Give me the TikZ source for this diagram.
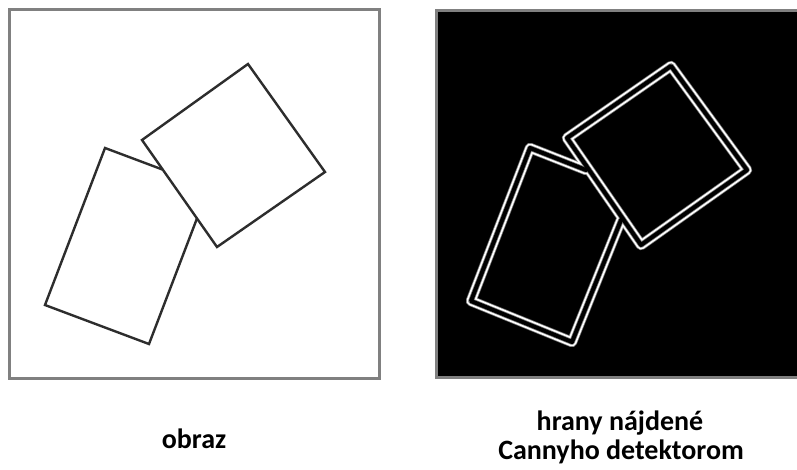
\documentclass[tikz,border=0pt]{standalone}
\usepackage{fontspec}
\setmainfont{Carlito}
\definecolor{framegray}{RGB}{128,128,128}
\definecolor{shapegray}{RGB}{45,45,45}
\definecolor{halo}{RGB}{120,120,120}
\begin{document}
\begin{tikzpicture}[x=1pt,y=-1pt,
  panelframe/.style={draw=framegray,line width=3pt},
  outline/.style={draw=shapegray,line width=2.4pt,line join=miter},
  lbl/.style={font=\fontsize{28}{29}\selectfont\bfseries,text=black,inner sep=0pt,anchor=base},
  edgeA/.style={draw=halo,line width=10.5pt,line join=round,line cap=round},
  edgeB/.style={draw=white,line width=9pt,line join=round,line cap=round},
  edgeC/.style={draw=halo,line width=5.5pt,line join=round,line cap=round},
  edgeD/.style={draw=black,line width=4pt,line join=round,line cap=round}]
\useasboundingbox (0,0) rectangle (797,470);
\fill[white] (0,0) rectangle (797,470);
% left panel
\draw[panelframe,fill=white] (9,10) rectangle (379,378);
\coordinate (r1) at (105,148);
\coordinate (r2) at (209,187);
\coordinate (r3) at (149,344);
\coordinate (r4) at (45,305);
\coordinate (s1) at (248,64);
\coordinate (s2) at (325,172);
\coordinate (s3) at (217,247);
\coordinate (s4) at (142,140);
\draw[outline] (r1) -- (r2) -- (r3) -- (r4) -- cycle;
\draw[outline,fill=white] (s1) -- (s2) -- (s3) -- (s4) -- cycle;
% right panel
\draw[panelframe,fill=black] (436,11) rectangle (802,377);
\coordinate (cr1) at (530,148);
\coordinate (cr3) at (572,342);
\coordinate (cr4) at (471,301);
\coordinate (cj1) at (586,170);
\coordinate (cj2) at (621,220);
\coordinate (cs1) at (671,66);
\coordinate (cs2) at (747,170);
\coordinate (cs3) at (641,245);
\coordinate (cs4) at (567,138);
\foreach \st in {edgeA,edgeB,edgeC,edgeD}{
  \draw[\st] (cs1) -- (cs2) -- (cs3) -- (cs4) -- cycle;
  \draw[\st] (cj1) -- (cr1) -- (cr4) -- (cr3) -- (cj2);
}
% labels
\node[lbl] (obraz) at (194,448) {obraz};
\node[lbl] (canny1) at (620,430) {hrany nájdené};
\node[lbl] (canny2) at (621,459) {Cannyho detektorom};
\end{tikzpicture}
\end{document}
